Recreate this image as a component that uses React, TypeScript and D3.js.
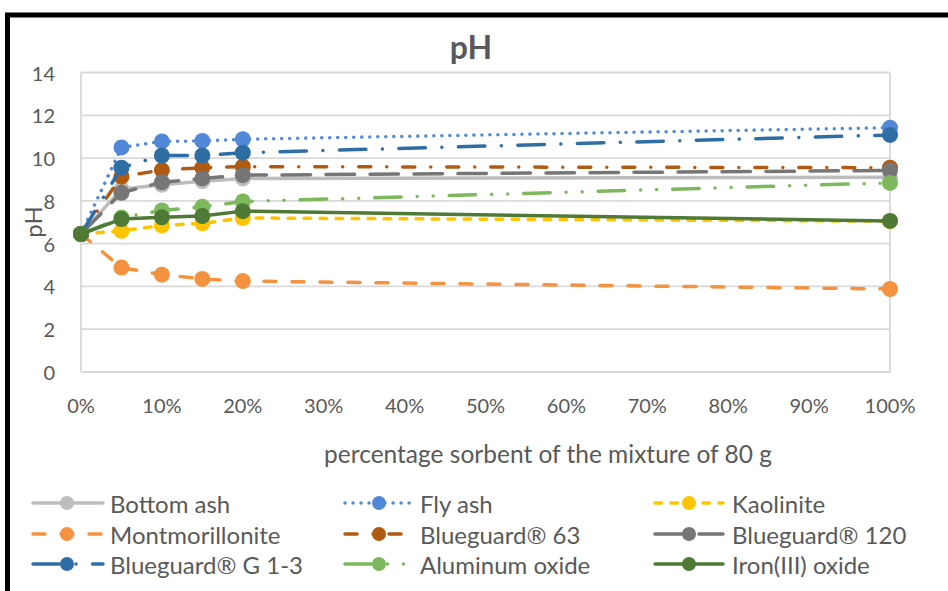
import React from "react";
import * as d3 from "d3";

// x positions (percentage sorbent in the 80 g mixture)
const percents = [0, 5, 10, 15, 20, 100];

const seriesNames = [
  "Bottom ash",
  "Fly ash",
  "Kaolinite",
  "Montmorillonite",
  "Blueguard® 63",
  "Blueguard® 120",
  "Blueguard® G 1-3",
  "Aluminum oxide",
  "Iron(III) oxide",
];

// pH readings per series, aligned with `percents`
const bottomAsh = [6.45, 8.55, 8.75, 8.92, 9.05, 9.1];
const flyAsh = [6.45, 10.5, 10.78, 10.8, 10.88, 11.42];
const kaolinite = [6.45, 6.6, 6.85, 6.95, 7.2, 7.05];
const montmorillonite = [6.45, 4.88, 4.55, 4.35, 4.25, 3.88];
const blueguard63 = [6.45, 9.13, 9.44, 9.55, 9.6, 9.55];
const blueguard120 = [6.45, 8.38, 8.87, 9.05, 9.2, 9.42];
const blueguardG13 = [6.45, 9.55, 10.12, 10.12, 10.25, 11.08];
const aluminumOxide = [6.45, 7.22, 7.55, 7.72, 7.97, 8.84];
const ironOxide = [6.45, 7.15, 7.23, 7.29, 7.52, 7.06];

const seriesValues = [
  bottomAsh,
  flyAsh,
  kaolinite,
  montmorillonite,
  blueguard63,
  blueguard120,
  blueguardG13,
  aluminumOxide,
  ironOxide,
];

const yTicks = [0, 2, 4, 6, 8, 10, 12, 14];
const xTicks = [0, 10, 20, 30, 40, 50, 60, 70, 80, 90, 100];

const chartTitle = "pH";
const xTitle = "percentage sorbent of the mixture of 80 g";
const yTitle = "pH";

type Style = { color: string; dash: string | null };
const styles: Style[] = [
  { color: "#BDBDBD", dash: null },
  { color: "#5189D8", dash: "0.01 8" },
  { color: "#FFC400", dash: "6.5 9.5" },
  { color: "#F4923F", dash: "12 16" },
  { color: "#B05A12", dash: "12 16 0.01 16" },
  { color: "#767676", dash: "28.5 15.5" },
  { color: "#2F6EA5", dash: "26.5 16.5 0.01 16.5" },
  { color: "#7DB95C", dash: "26.5 16 0.01 16 0.01 16" },
  { color: "#4E7A35", dash: null },
];

const W = 948;
const H = 591;
const FONT = "Lato, 'Liberation Sans', sans-serif";
const TEXT = "#595959";
const GRID = "#D9D9D9";

const x = d3.scaleLinear().domain([0, 100]).range([81, 890]);
const y = d3.scaleLinear().domain([0, 14]).range([372, 72.5]);

const line = d3
  .line<[number, number]>()
  .x((d) => x(d[0]))
  .y((d) => y(d[1]));

// legend grid: 3 columns x 3 rows
const legendCols = [
  { x0: 33, x1: 103, mx: 67, tx: 110 },
  { x0: 345, x1: 410, mx: 379, tx: 420 },
  { x0: 655, x1: 723, mx: 689, tx: 732 },
];
const legendRows = [503, 534, 564];

export default function App() {
  return (
    <svg
      width={W}
      height={H}
      style={{ position: "absolute", left: 0, top: 0, background: "#fff" }}
      fontFamily={FONT}
    >
      <rect x={0} y={0} width={W} height={H} fill="#fff" />
      {/* outer frame */}
      <path d={`M7.5,${H + 5} V15 H${W + 5}`} fill="none" stroke="#000" strokeWidth={5} />

      <text x={471} y={46} textAnchor="middle" dominantBaseline="central" fontSize={32} fontWeight="bold" fill={TEXT}>
        {chartTitle}
      </text>

      {/* gridlines */}
      {yTicks.map((t) => (
        <line key={t} x1={x(0)} x2={x(100)} y1={y(t)} y2={y(t)} stroke={GRID} strokeWidth={1.8} />
      ))}
      <line x1={x(0)} x2={x(0)} y1={y(0)} y2={y(14)} stroke={GRID} strokeWidth={1.8} />
      <line x1={x(100)} x2={x(100)} y1={y(0)} y2={y(14)} stroke={GRID} strokeWidth={1.8} />

      {/* tick labels */}
      {yTicks.map((t) => (
        <text key={t} x={55} y={y(t)} textAnchor="end" dominantBaseline="central" fontSize={20} fill={TEXT}>
          {t}
        </text>
      ))}
      {xTicks.map((t) => (
        <text key={t} x={x(t)} y={405} textAnchor="middle" dominantBaseline="central" fontSize={20} fill={TEXT}>
          {`${t}%`}
        </text>
      ))}

      <text x={548} y={453} textAnchor="middle" dominantBaseline="central" fontSize={24.5} fill={TEXT}>
        {xTitle}
      </text>
      <text
        transform={`translate(32,222) rotate(-90)`}
        textAnchor="middle"
        dominantBaseline="central"
        fontSize={24}
        fill={TEXT}
      >
        {yTitle}
      </text>

      {/* series */}
      {seriesValues.map((vals, i) => {
        const pts: [number, number][] = percents.map((p, j) => [p, vals[j]]);
        const s = styles[i];
        return (
          <g key={seriesNames[i]}>
            <path
              d={line(pts) ?? ""}
              fill="none"
              stroke={s.color}
              strokeWidth={3.5}
              strokeLinecap="round"
              strokeLinejoin="round"
              strokeDasharray={s.dash ?? undefined}
            />
            {pts.map((d, j) => (
              <circle key={j} cx={x(d[0])} cy={y(d[1])} r={8} fill={s.color} />
            ))}
          </g>
        );
      })}

      {/* legend */}
      {seriesNames.map((name, i) => {
        const c = legendCols[i % 3];
        const ry = legendRows[Math.floor(i / 3)];
        const s = styles[i];
        return (
          <g key={name}>
            <line
              x1={c.x0}
              x2={c.x1}
              y1={ry}
              y2={ry}
              stroke={s.color}
              strokeWidth={3.5}
              strokeLinecap="round"
              strokeDasharray={s.dash ?? undefined}
            />
            <circle cx={c.mx} cy={ry} r={7} fill={s.color} />
            <text x={c.tx} y={ry} dominantBaseline="central" fontSize={24} fill={TEXT}>
              {name}
            </text>
          </g>
        );
      })}
    </svg>
  );
}
